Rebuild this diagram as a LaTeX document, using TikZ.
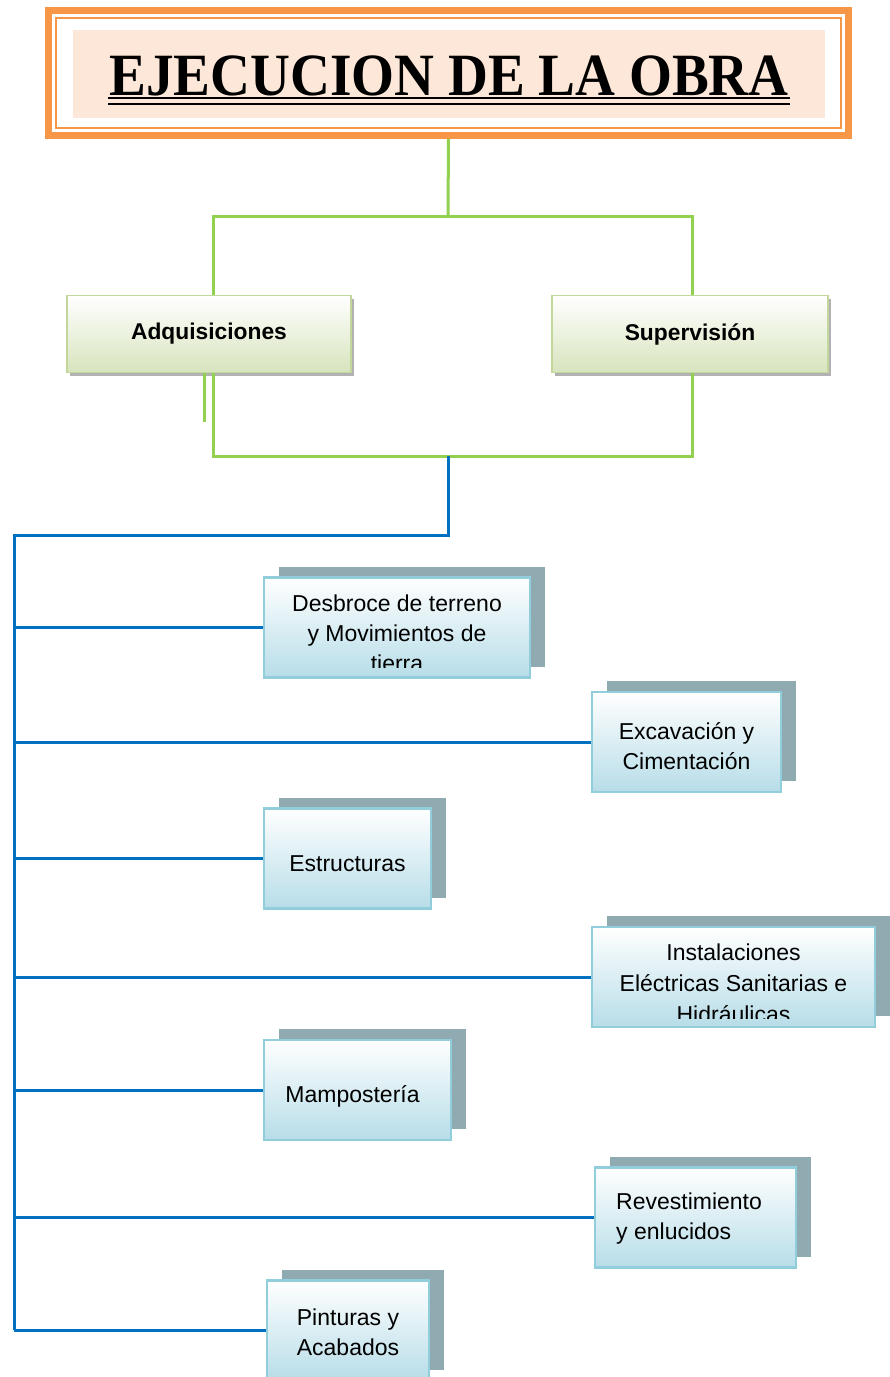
\documentclass[tikz,border=0pt]{standalone}
\usepackage{fontspec}
\usepackage{graphicx}
\setmainfont{Liberation Sans}
\newfontfamily\titlefont{Liberation Serif}
\usetikzlibrary{shadows,positioning}

\definecolor{naranja}{HTML}{F79646}
\definecolor{rosado}{HTML}{FCE7D9}
\definecolor{verdelinea}{HTML}{92D050}
\definecolor{verdeborde}{HTML}{C3D69B}
\definecolor{verdefondo}{HTML}{D7E4BD}
\definecolor{azullinea}{HTML}{0070C0}
\definecolor{celeste}{HTML}{B7DDE8}
\definecolor{celesteborde}{HTML}{92CDDC}
\definecolor{sombra}{HTML}{8FAAB1}

\tikzset{
  lineaverde/.style={verdelinea, line width=3pt},
  lineaazul/.style={azullinea, line width=3pt},
  area/.style={draw=verdeborde, line width=1.5pt, top color=white, bottom color=verdefondo,
    minimum width=284pt, minimum height=77pt,
    font=\fontsize{22.8}{26}\selectfont\bfseries,
    general shadow={fill=gray!60, shadow xshift=3pt, shadow yshift=-3pt}},
  tarea/.style={draw=celesteborde, line width=2.5pt, top color=white, bottom color=celeste,
    minimum height=100pt, inner sep=0pt,
    general shadow={fill=sombra, shadow xshift=15pt, shadow yshift=11pt}},
  texto/.style={align=center, inner sep=0pt, font=\fontsize{23}{30}\selectfont},
}

\begin{document}
\begin{tikzpicture}[x=1pt,y=-1pt]
  \fill[white] (0,0) rectangle (890,1377);
  \useasboundingbox (0,0) rectangle (890,1377);

  % Title frame
  \node[draw=naranja, line width=7pt, minimum width=800pt, minimum height=125pt, inner sep=0pt] (title) at (448.5,73) {};
  \draw[naranja, line width=2pt] (56,18) rectangle (841,128);
  \fill[rosado] (73,30) rectangle (825,118);
  \node[font=\titlefont\bfseries\fontsize{60}{60}\selectfont, anchor=base, inner sep=0pt] (titletext) at (449,95) {\scalebox{0.92}[1]{EJECUCION DE LA OBRA}};
  \draw[line width=2pt] (108,98) -- (790,98);
  \draw[line width=2pt] (108,104) -- (790,104);

  % Green level
  \node[area] (adq) at (209,334) {Adquisiciones};
  \node[area, minimum width=276pt] (sup) at (690,334) {Supervisión};

  \coordinate (jsup) at (448,216);
  \coordinate (jinf) at (448,456);
  \draw[lineaverde] (title.south) -- (jsup);
  \draw[lineaverde] ([xshift=4pt]adq.north) |- (jsup) -| ([xshift=2pt]sup.north);
  \draw[lineaverde] ([xshift=4pt]adq.south) |- (jinf) -| ([xshift=2pt]sup.south);
  \draw[lineaverde] ([xshift=-5pt]adq.south) -- ++(0,49);

  % Blue trunk
  \coordinate (tronco) at (14,535);
  \coordinate (troncofin) at (14,1330);
  \draw[lineaazul] (jinf) |- (tronco) -- (troncofin);

  % Tasks
  \node[tarea, minimum width=266pt] (d1) at (397,627.5) {};
  \begin{scope}
    \clip (264,578) rectangle (530,667);
    \node[texto] (t1) at (397,633) {Desbroce de terreno\\y Movimientos de\\tierra};
  \end{scope}

  \node[tarea, minimum width=189pt] (d2) at (686.5,742) {};
  \node[texto] (t2) at (686.5,746) {Excavación y\\Cimentación};

  \node[tarea, minimum width=167pt] (d3) at (347.5,858.5) {};
  \node[texto] (t3) at (347.5,864) {Estructuras};

  \node[tarea, minimum width=283pt] (d4) at (733.5,977) {};
  \begin{scope}
    \clip (593,928) rectangle (874,1018);
    \node[texto, font=\fontsize{23}{31}\selectfont] (t4) at (733.5,983) {Instalaciones\\Eléctricas Sanitarias e\\Hidráulicas};
  \end{scope}

  \node[tarea, minimum width=187pt] (d5) at (357.5,1090) {};
  \node[texto] (t5) at (352.5,1096) {Mampostería};

  \node[tarea, minimum width=201pt] (d6) at (695.5,1217.5) {};
  \node[texto, align=left, anchor=west] (t6) at (616,1219) {Revestimiento\\y enlucidos};

  \node[tarea, minimum width=162pt] (d7) at (348,1330.5) {};
  \node[texto] (t7) at (348,1332) {Pinturas y\\Acabados};

  % Branches
  \draw[lineaazul] (d1.west) -- (d1.west -| tronco);
  \draw[lineaazul] (d2.west) -- (d2.west -| tronco);
  \draw[lineaazul] (d3.west) -- (d3.west -| tronco);
  \draw[lineaazul] (d4.west) -- (d4.west -| tronco);
  \draw[lineaazul] (d5.west) -- (d5.west -| tronco);
  \draw[lineaazul] (d6.west) -- (d6.west -| tronco);
  \draw[lineaazul] (d7.west) -- (d7.west -| tronco);
\end{tikzpicture}
\end{document}
